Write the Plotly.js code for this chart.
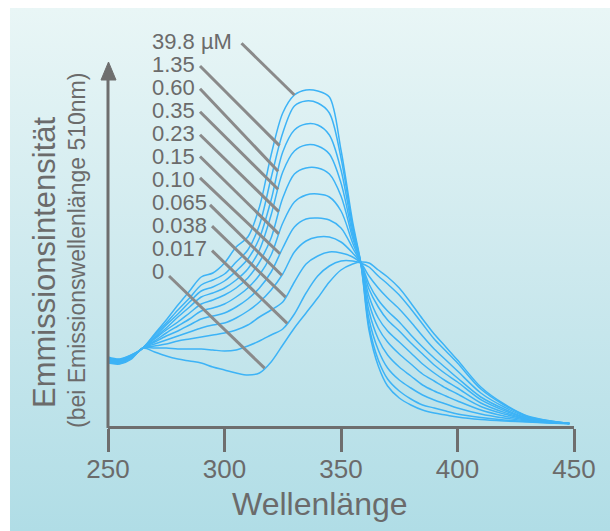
<!DOCTYPE html>
<html>
<head>
<meta charset="utf-8">
<script src="https://cdn.plot.ly/plotly-3.0.1.min.js"></script>
<style>
  html, body { margin:0; padding:0; background:#ffffff; }
  #bg { position:absolute; left:10px; top:8px; width:600px; height:523px;
        background: linear-gradient(to bottom, #e9f6f6 0%, #cde9ee 50%, #b0dde6 100%); }
  #chart { position:absolute; left:0; top:0; width:610px; height:531px; }
</style>
</head>
<body>
<div id="bg"></div>
<div id="chart"></div>
<script>
// Wavelength grid (nm)
const wavelength = [250,255,260,265,270,275,280,285,290,295,300,305,310,315,320,325,330,335,340,345,350,355,358.5,362,366,370,375,380,385,390,395,400,410,420,430,440,448];

// Ca2+ concentrations (labels)
const concLabels = ["39.8 µM","1.35","0.60","0.35","0.23","0.15","0.10","0.065","0.038","0.017","0"];

// Emission intensity (a.u.) per concentration
const I_39_8  = [69,67,71,78, 92,106,121,135,149,153,163,179,189,219,271,313,331,336,335,329,276,204,163,96,60,40,28,21,16,13,11,9,6.5,5,4,3,2.5];
const I_1_35  = [68,66.5,71,78, 91,103,116,128,141,146,152,164,176,201,248,293,320,325,323,313,268,200,163,100,66,47,35,27,21,18,15,12,8.5,6,4.4,3,2.5];
const I_0_60  = [68,66,70,78, 89,101,112,124,135,139,145,155,167,188,226,274,296,302,301,291,256,196,163,107,76,58,46,38,31,26,22,18,12,8,5,3.3,2.5];
const I_0_35  = [67,65.5,70,78, 88,98,109,119,129,133,138,146,157,176,211,254,275,281,280,272,243,192,163,115,87,71,59,50,41,35,30,25,16,10,5.7,3.6,2.5];
const I_0_23  = [67,65,69,78, 87,96,104,113,122,126,131,138,148,164,188,228,252,258,258,252,230,188,163,123,98,84,72,62,52,45,38,32,19.5,12,6.4,3.8,2.5];
const I_0_15  = [66,64.5,69,78, 85,93,100,107,115,118,122,129,138,151,171,203,224,231,232,229,215,183,163,130,108,95,84,73,62,53,45,38,23,13.6,7,4,2.5];
const I_0_10  = [66,64,69,78, 84,90,95,101,107,110,113,119,127,138,154,178,199,207,208,206,198,178,163,137,119,106,95,83,72,61,52,44,26.3,15.4,7.7,4.2,2.5];
const I_0_065 = [65,63.5,68,78, 82,86,90,94,98,101,103,108,115,124,136,152,174,185,189,189,184,173,163,142,126,115,104,91,79,68,58,48,29,17,8,4.4,2.5];
const I_0_038 = [65,63,68,78, 80,82,85,87,89,91,93,96,101,109,116,124,144,162,170,174,173,169,163,150,138,128,117,104,90,77,66,55,33,19,8.9,4.6,2.5];
const I_0_017 = [64,62.5,68,78, 78,78,77,77,77,76,75,76,80,85,91,97,112,133,150,160,165,165,163,159,150,142,131,117,102,87,75,63,37,21,9.6,4.9,2.5];
const I_0     = [63,62,67,78, 74,70,67,65,63,59,56,53,51,53,64,81,98,113,128,144,156,162,164,163,156,149,138,123,107,92,79,66,39,22,10,5,2.5];

const series = [I_39_8, I_1_35, I_0_60, I_0_35, I_0_23, I_0_15, I_0_10, I_0_065, I_0_038, I_0_017, I_0];

// Wavelength where each label's leader line touches its curve
const leaderWl = [330, 323.6, 323, 323, 323.3, 323.3, 323.8, 324.6, 326.2, 326.9, 317.2];

const xTicks = [250, 300, 350, 400, 450];

// ---- layout helpers (pixel -> paper) ----
const X0 = 250, X1 = 450, YMAX = 364;
const PL = 108, PR = 574, PT = 62, PB = 426;
const PX = p => (p - PL) / (PR - PL);
const PY = p => (PB - p) / (PB - PT);

function interp(xs, ys, x) {
  for (let i = 0; i < xs.length - 1; i++) {
    if (x >= xs[i] && x <= xs[i+1]) {
      const t = (x - xs[i]) / (xs[i+1] - xs[i]);
      return ys[i] + t * (ys[i+1] - ys[i]);
    }
  }
  return ys[ys.length - 1];
}

const lineColor = '#3db3f6';
const textColor = '#6b6b6b';
const font = 'Liberation Sans, Arial, Helvetica, sans-serif';

const traces = series.map((ys, i) => ({
  x: wavelength, y: ys, type: 'scatter', mode: 'lines',
  line: {color: lineColor, width: 1.5, shape: 'spline', smoothing: 0.9},
  hoverinfo: 'skip', name: concLabels[i]
}));

// label positions (pixels) and leader tails (pixels)
const labelPx = 150;
const labelPy = [41.4, 64.8, 87.6, 110.3, 133, 156, 179, 202, 225, 248, 271];
const tailPx = [241.5, 200, 200, 200, 200, 200, 200, 210, 212, 212, 169];
const tailPy = [43.3, 66, 88.7, 111.7, 134.8, 156.5, 177.8, 204.9, 226.2, 250.6, 276];

const shapes = [];
const annotations = [];
series.forEach((ys, i) => {
  const w = leaderWl[i];
  const h = interp(wavelength, ys, w);
  shapes.push({type: 'line', xref: 'paper', yref: 'paper', layer: 'above',
    x0: PX(tailPx[i]), y0: PY(tailPy[i]),
    x1: (w - X0) / (X1 - X0), y1: h / YMAX,
    line: {color: '#8a8a8a', width: 3}});
  annotations.push({xref: 'paper', yref: 'paper', x: PX(labelPx), y: PY(labelPy[i]),
    xanchor: 'left', yanchor: 'middle', showarrow: false, text: concLabels[i],
    font: {family: font, size: 22, color: textColor}});
});

// y axis with arrow
shapes.push({type: 'line', xref: 'paper', yref: 'paper', layer: 'above',
  x0: 0, y0: PY(428), x1: 0, y1: PY(78), line: {color: '#6e6e6e', width: 3}});
shapes.push({type: 'path', xref: 'paper', yref: 'paper', layer: 'above',
  path: `M ${PX(101)},${PY(80)} L ${PX(108.5)},${PY(62)} L ${PX(116)},${PY(80)} Z`,
  fillcolor: '#6e6e6e', line: {color: '#6e6e6e', width: 1}});

// axis titles
annotations.push({xref: 'paper', yref: 'paper', x: PX(320), y: PY(504),
  xanchor: 'center', yanchor: 'middle', showarrow: false, text: 'Wellenlänge',
  font: {family: font, size: 32, color: textColor}});
annotations.push({xref: 'paper', yref: 'paper', x: PX(44), y: PY(262),
  xanchor: 'center', yanchor: 'middle', showarrow: false, textangle: -90,
  text: 'Emmissionsintensität', font: {family: font, size: 31, color: textColor}});
annotations.push({xref: 'paper', yref: 'paper', x: PX(77), y: PY(251),
  xanchor: 'center', yanchor: 'middle', showarrow: false, textangle: -90,
  text: '(bei Emissionswellenlänge 510nm)', font: {family: font, size: 23, color: textColor}});

const layout = {
  width: 610, height: 531,
  margin: {l: PL, r: 610 - PR, t: PT, b: 531 - PB, pad: 0},
  paper_bgcolor: 'rgba(0,0,0,0)', plot_bgcolor: 'rgba(0,0,0,0)',
  showlegend: false, hovermode: false,
  xaxis: {range: [X0, X1], tickvals: xTicks, ticktext: xTicks.map(String),
    ticks: 'outside', ticklen: 23, tickwidth: 3, tickcolor: '#6e6e6e',
    ticklabelstandoff: -5,
    showline: true, linewidth: 3, linecolor: '#6e6e6e',
    showgrid: false, zeroline: false, fixedrange: true,
    tickfont: {family: font, size: 26, color: textColor}},
  yaxis: {range: [0, YMAX], visible: false, fixedrange: true},
  shapes: shapes, annotations: annotations
};

Plotly.newPlot('chart', traces, layout, {displayModeBar: false, staticPlot: true});
</script>
</body>
</html>
